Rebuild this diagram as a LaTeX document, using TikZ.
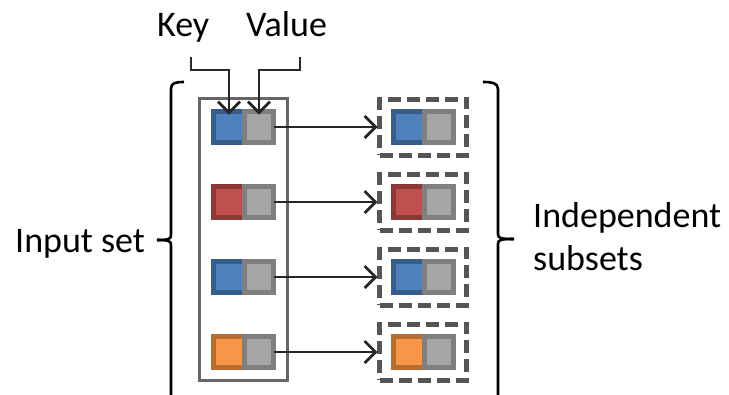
\documentclass[tikz,border=0pt]{standalone}
\usepackage{fontspec}
\setmainfont{Carlito}
\usetikzlibrary{arrows.meta}

\definecolor{blueFill}{HTML}{4F81BD}
\definecolor{blueLine}{HTML}{385D8A}
\definecolor{redFill}{HTML}{C0504D}
\definecolor{redLine}{HTML}{8C3836}
\definecolor{orangeFill}{HTML}{F79646}
\definecolor{orangeLine}{HTML}{B66D31}
\definecolor{grayFill}{HTML}{A5A5A5}
\definecolor{grayLine}{HTML}{7F7F7F}
\definecolor{boxLine}{HTML}{666666}
\definecolor{dashLine}{HTML}{555555}
\definecolor{arrowLine}{HTML}{262626}

\tikzset{
  cell/.style={rectangle, inner sep=0pt, outer sep=0pt, line width=5pt,
    minimum height=31pt},
  keycell/.style={cell, minimum width=31pt},
  valcell/.style={cell, minimum width=29pt, fill=grayFill, draw=grayLine},
  blueKey/.style={keycell, fill=blueFill, draw=blueLine},
  redKey/.style={keycell, fill=redFill, draw=redLine},
  orangeKey/.style={keycell, fill=orangeFill, draw=orangeLine},
  subsetbox/.style={rectangle, draw=dashLine, line width=5pt,
    dash pattern=on 13pt off 6pt, inner sep=0pt, outer sep=0pt,
    minimum width=87pt, minimum height=56pt},
  inputbox/.style={rectangle, draw=boxLine, line width=3pt, inner sep=0pt,
    outer sep=0pt, minimum width=88pt, minimum height=282pt},
  arr/.style={draw=arrowLine, line width=2.8pt,
    -{Straight Barb[length=11pt, width=22pt, line width=2.8pt]}},
  brace/.style={draw=black, line width=2.6pt},
  lbl/.style={inner sep=0pt, anchor=base west,
    font=\fontsize{36}{43}\selectfont},
}

\begin{document}
\begin{tikzpicture}[x=1pt, y=-1pt]
\useasboundingbox (0,0) rectangle (729,394);
\clip (0,0) rectangle (729,394);

% labels
\node[lbl] (keylbl) at (157,36) {Key};
\node[lbl] (vallbl) at (246,36) {Value};
\node[lbl] (inlbl) at (15,252) {Input set};
\node[lbl] (indlbl) at (533,227) {Independent};
\node[lbl] (sublbl) at (533,270) {subsets};

% input set frame
\node[inputbox] (inbox) at (243.5,239.5) {};

% subset frames
\node[subsetbox] (s1) at (423,127) {};
\node[subsetbox] (s2) at (423,202) {};
\node[subsetbox] (s3) at (423,277) {};
\node[subsetbox] (s4) at (423,352) {};

% key/value pairs of the input set
\node[blueKey]   (k1) at (229,127) {};
\node[valcell]   (v1) at (259,127) {};
\node[redKey]    (k2) at (229,202) {};
\node[valcell]   (v2) at (259,202) {};
\node[blueKey]   (k3) at (229,277) {};
\node[valcell]   (v3) at (259,277) {};
\node[orangeKey] (k4) at (229,352) {};
\node[valcell]   (v4) at (259,352) {};

% key/value pairs inside the subsets
\node[blueKey]   (sk1) at (409,127) {};
\node[valcell]   (sv1) at (439,127) {};
\node[redKey]    (sk2) at (409,202) {};
\node[valcell]   (sv2) at (439,202) {};
\node[blueKey]   (sk3) at (409,277) {};
\node[valcell]   (sv3) at (439,277) {};
\node[orangeKey] (sk4) at (409,352) {};
\node[valcell]   (sv4) at (439,352) {};

% pair -> subset
\draw[arr] (v1.east) -- ([xshift=-2pt]s1.west);
\draw[arr] (v2.east) -- ([xshift=-2pt]s2.west);
\draw[arr] (v3.east) -- ([xshift=-2pt]s3.west);
\draw[arr] (v4.east) -- ([xshift=-2pt]s4.west);

% key / value pointers
\coordinate (keystart) at (191,57);
\coordinate (valstart) at (300,57);
\draw[arr] (keystart) -- ++(0,13) -| ([yshift=-3pt]k1.north);
\draw[arr] (valstart) -- ++(0,13) -| ([yshift=-3pt]v1.north);

% left brace
\draw[brace] (184,82) .. controls (175,82) and (171,83) .. (171,89)
  -- (171,235) .. controls (171,239) and (169,240) .. (157,240);
\draw[brace] (157,240) .. controls (169,240) and (171,241) .. (171,245)
  -- (171,400);

% right brace
\draw[brace] (483,82) .. controls (492,82) and (498,83) .. (498,89)
  -- (498,234) .. controls (498,238) and (500,239) .. (514,239);
\draw[brace] (514,239) .. controls (500,239) and (498,240) .. (498,244)
  -- (498,400);
\end{tikzpicture}
\end{document}
